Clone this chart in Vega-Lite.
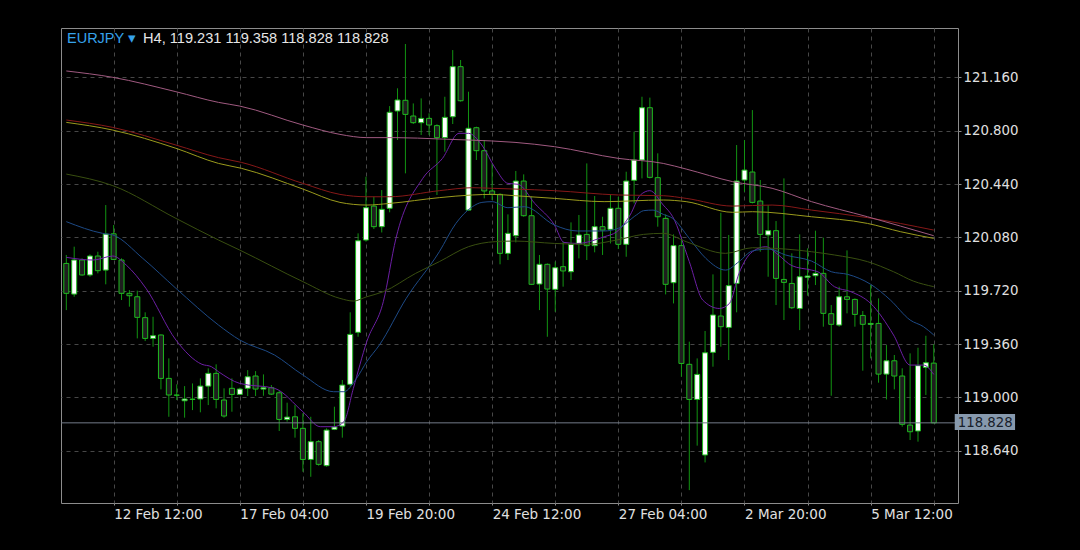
{
  "$schema": "https://vega.github.io/schema/vega-lite/v6.json",
  "width": 897,
  "height": 475,
  "autosize": {"type": "none"},
  "padding": {"left": 61, "top": 28, "right": 122, "bottom": 47},
  "background": "#000000",
  "config": {
    "view": {"stroke": "#8c8c8c", "strokeWidth": 1, "fill": "#000000"},
    "axisX": {
      "labelAlign": "left",
      "labelFlush": false,
      "labelOverlap": false,
      "labelFont": "DejaVu Sans",
      "labelFontSize": 13.5,
      "labelColor": "#e0e0e0",
      "labelPadding": 2,
      "ticks": true,
      "tickSize": 2,
      "tickColor": "#8c8c8c",
      "domain": false,
      "grid": true,
      "gridColor": "#474747",
      "gridDash": [4, 4],
      "gridWidth": 1,
      "title": null
    },
    "axisY": {
      "labelFont": "DejaVu Sans",
      "labelFontSize": 13.3,
      "labelColor": "#e0e0e0",
      "labelPadding": 2,
      "tickSize": 3,
      "tickColor": "#8c8c8c",
      "domain": false,
      "grid": true,
      "gridColor": "#474747",
      "gridDash": [4, 4],
      "gridWidth": 1,
      "title": null
    }
  },
  "datasets": {
    "candles": [
      {"i":0,"O":119.904,"H":119.961,"L":119.589,"C":119.702},
      {"i":1,"O":119.697,"H":120.017,"L":119.679,"C":119.927},
      {"i":2,"O":119.927,"H":119.938,"L":119.821,"C":119.826},
      {"i":3,"O":119.826,"H":119.965,"L":119.814,"C":119.954},
      {"i":4,"O":119.954,"H":119.983,"L":119.837,"C":119.855},
      {"i":5,"O":119.859,"H":120.298,"L":119.763,"C":120.102},
      {"i":6,"O":120.104,"H":120.163,"L":119.927,"C":119.931},
      {"i":7,"O":119.927,"H":119.938,"L":119.657,"C":119.702},
      {"i":8,"O":119.702,"H":119.724,"L":119.612,"C":119.686},
      {"i":9,"O":119.679,"H":119.720,"L":119.398,"C":119.540},
      {"i":10,"O":119.538,"H":119.574,"L":119.380,"C":119.398},
      {"i":11,"O":119.398,"H":119.544,"L":119.342,"C":119.416},
      {"i":12,"O":119.421,"H":119.425,"L":119.054,"C":119.128},
      {"i":13,"O":119.128,"H":119.263,"L":118.869,"C":119.016},
      {"i":14,"O":119.016,"H":119.088,"L":118.982,"C":119.014},
      {"i":15,"O":118.977,"H":119.076,"L":118.863,"C":118.989},
      {"i":16,"O":118.986,"H":119.094,"L":118.914,"C":118.988},
      {"i":17,"O":118.989,"H":119.128,"L":118.899,"C":119.076},
      {"i":18,"O":119.076,"H":119.196,"L":118.948,"C":119.162},
      {"i":19,"O":119.162,"H":119.223,"L":118.926,"C":118.986},
      {"i":20,"O":118.982,"H":119.061,"L":118.863,"C":118.874},
      {"i":21,"O":119.061,"H":119.128,"L":118.903,"C":119.020},
      {"i":22,"O":119.020,"H":119.065,"L":119.016,"C":119.056},
      {"i":23,"O":119.061,"H":119.184,"L":119.009,"C":119.139},
      {"i":24,"O":119.144,"H":119.177,"L":119.009,"C":119.056},
      {"i":25,"O":119.056,"H":119.155,"L":119.011,"C":119.065},
      {"i":26,"O":119.065,"H":119.083,"L":119.016,"C":119.022},
      {"i":27,"O":119.031,"H":119.043,"L":118.773,"C":118.851},
      {"i":28,"O":118.851,"H":118.964,"L":118.836,"C":118.867},
      {"i":29,"O":118.869,"H":118.948,"L":118.728,"C":118.791},
      {"i":30,"O":118.791,"H":118.892,"L":118.498,"C":118.581},
      {"i":31,"O":118.581,"H":118.869,"L":118.464,"C":118.701},
      {"i":32,"O":118.701,"H":118.712,"L":118.539,"C":118.548},
      {"i":33,"O":118.539,"H":118.791,"L":118.532,"C":118.779},
      {"i":34,"O":118.784,"H":118.937,"L":118.779,"C":118.800},
      {"i":35,"O":118.806,"H":119.117,"L":118.728,"C":119.083},
      {"i":36,"O":119.088,"H":119.574,"L":119.072,"C":119.425},
      {"i":37,"O":119.439,"H":120.107,"L":119.409,"C":120.057},
      {"i":38,"O":120.062,"H":120.489,"L":120.051,"C":120.280},
      {"i":39,"O":120.291,"H":120.354,"L":120.136,"C":120.152},
      {"i":40,"O":120.152,"H":120.399,"L":120.113,"C":120.269},
      {"i":41,"O":120.276,"H":120.966,"L":120.249,"C":120.924},
      {"i":42,"O":120.933,"H":121.086,"L":120.737,"C":121.007},
      {"i":43,"O":121.005,"H":121.385,"L":120.512,"C":120.910},
      {"i":44,"O":120.899,"H":120.984,"L":120.845,"C":120.854},
      {"i":45,"O":120.854,"H":121.018,"L":120.771,"C":120.883},
      {"i":46,"O":120.883,"H":120.917,"L":120.771,"C":120.838},
      {"i":47,"O":120.834,"H":120.843,"L":120.366,"C":120.753},
      {"i":48,"O":120.753,"H":121.029,"L":120.658,"C":120.890},
      {"i":49,"O":120.894,"H":121.344,"L":120.845,"C":121.232},
      {"i":50,"O":121.232,"H":121.277,"L":120.996,"C":121.002},
      {"i":51,"O":120.264,"H":121.063,"L":120.260,"C":120.816},
      {"i":52,"O":120.820,"H":120.827,"L":120.602,"C":120.665},
      {"i":53,"O":120.665,"H":120.737,"L":120.343,"C":120.393},
      {"i":54,"O":120.393,"H":120.579,"L":120.332,"C":120.370},
      {"i":55,"O":120.370,"H":120.377,"L":119.898,"C":119.972},
      {"i":56,"O":119.972,"H":120.235,"L":119.927,"C":120.107},
      {"i":57,"O":120.091,"H":120.528,"L":120.046,"C":120.460},
      {"i":58,"O":120.460,"H":120.505,"L":120.219,"C":120.226},
      {"i":59,"O":120.226,"H":120.354,"L":119.758,"C":119.763},
      {"i":60,"O":119.765,"H":119.961,"L":119.589,"C":119.898},
      {"i":61,"O":119.898,"H":119.904,"L":119.409,"C":119.731},
      {"i":62,"O":119.729,"H":119.916,"L":119.578,"C":119.875},
      {"i":63,"O":119.882,"H":120.051,"L":119.747,"C":119.853},
      {"i":64,"O":119.848,"H":120.181,"L":119.792,"C":120.033},
      {"i":65,"O":120.035,"H":120.231,"L":119.938,"C":120.096},
      {"i":66,"O":120.100,"H":120.579,"L":119.927,"C":120.024},
      {"i":67,"O":120.024,"H":120.359,"L":119.979,"C":120.152},
      {"i":68,"O":120.152,"H":120.219,"L":119.961,"C":120.129},
      {"i":69,"O":120.134,"H":120.366,"L":120.039,"C":120.276},
      {"i":70,"O":120.276,"H":120.354,"L":120.001,"C":120.033},
      {"i":71,"O":120.033,"H":120.523,"L":119.949,"C":120.460},
      {"i":72,"O":120.465,"H":120.793,"L":120.309,"C":120.602},
      {"i":73,"O":120.602,"H":121.029,"L":120.478,"C":120.955},
      {"i":74,"O":120.955,"H":121.023,"L":120.478,"C":120.485},
      {"i":75,"O":120.483,"H":120.647,"L":120.152,"C":120.219},
      {"i":76,"O":120.208,"H":120.235,"L":119.695,"C":119.763},
      {"i":77,"O":119.774,"H":120.100,"L":119.634,"C":120.024},
      {"i":78,"O":120.024,"H":120.073,"L":119.139,"C":119.229},
      {"i":79,"O":119.223,"H":119.376,"L":118.374,"C":118.986},
      {"i":80,"O":118.986,"H":119.263,"L":118.674,"C":119.155},
      {"i":81,"O":118.611,"H":119.448,"L":118.561,"C":119.301},
      {"i":82,"O":119.304,"H":119.830,"L":119.207,"C":119.556},
      {"i":83,"O":119.549,"H":120.246,"L":119.342,"C":119.477},
      {"i":84,"O":119.472,"H":120.096,"L":119.252,"C":119.754},
      {"i":85,"O":119.769,"H":120.703,"L":119.574,"C":120.460},
      {"i":86,"O":120.467,"H":120.737,"L":120.388,"C":120.534},
      {"i":87,"O":120.521,"H":120.939,"L":120.309,"C":120.316},
      {"i":88,"O":120.325,"H":120.467,"L":119.983,"C":120.100},
      {"i":89,"O":120.096,"H":120.298,"L":119.814,"C":120.125},
      {"i":90,"O":120.125,"H":120.190,"L":119.623,"C":119.803},
      {"i":91,"O":119.796,"H":120.478,"L":119.522,"C":119.776},
      {"i":92,"O":119.769,"H":119.972,"L":119.596,"C":119.605},
      {"i":93,"O":119.600,"H":120.100,"L":119.454,"C":119.814},
      {"i":94,"O":119.810,"H":120.006,"L":119.686,"C":119.819},
      {"i":95,"O":119.821,"H":120.125,"L":119.758,"C":119.837},
      {"i":96,"O":119.837,"H":120.078,"L":119.477,"C":119.567},
      {"i":97,"O":119.565,"H":119.623,"L":119.011,"C":119.493},
      {"i":98,"O":119.488,"H":119.747,"L":119.477,"C":119.679},
      {"i":99,"O":119.679,"H":119.992,"L":119.567,"C":119.661},
      {"i":100,"O":119.661,"H":119.668,"L":119.477,"C":119.560},
      {"i":101,"O":119.553,"H":119.583,"L":119.180,"C":119.493},
      {"i":102,"O":119.493,"H":119.758,"L":119.263,"C":119.499},
      {"i":103,"O":119.499,"H":119.668,"L":119.099,"C":119.157},
      {"i":104,"O":119.157,"H":119.353,"L":118.986,"C":119.247},
      {"i":105,"O":119.247,"H":119.286,"L":119.054,"C":119.144},
      {"i":106,"O":119.144,"H":119.196,"L":118.802,"C":118.818},
      {"i":107,"O":118.813,"H":119.297,"L":118.712,"C":118.768},
      {"i":108,"O":118.773,"H":119.335,"L":118.701,"C":119.214},
      {"i":109,"O":119.202,"H":119.416,"L":119.016,"C":119.234},
      {"i":110,"O":119.231,"H":119.358,"L":118.828,"C":118.828}
    ],
    "ma": [
      {"s":"ma1","i":0,"v":119.945},{"s":"ma1","i":3.4,"v":119.927},{"s":"ma1","i":5.9,"v":119.954},{"s":"ma1","i":7.6,"v":119.893},{"s":"ma1","i":10.1,"v":119.736},{"s":"ma1","i":13.9,"v":119.387},{"s":"ma1","i":17.2,"v":119.223},{"s":"ma1","i":18.4,"v":119.207},{"s":"ma1","i":19.3,"v":119.173},{"s":"ma1","i":22.0,"v":119.094},{"s":"ma1","i":26.4,"v":119.061},{"s":"ma1","i":30.0,"v":118.903},{"s":"ma1","i":32.2,"v":118.802},{"s":"ma1","i":33.9,"v":118.802},{"s":"ma1","i":35.2,"v":118.836},{"s":"ma1","i":36.4,"v":119.061},{"s":"ma1","i":38.1,"v":119.376},{"s":"ma1","i":40.2,"v":119.646},{"s":"ma1","i":41.8,"v":120.073},{"s":"ma1","i":45.2,"v":120.478},{"s":"ma1","i":47.7,"v":120.613},{"s":"ma1","i":49.8,"v":120.782},{"s":"ma1","i":51.0,"v":120.782},{"s":"ma1","i":52.7,"v":120.703},{"s":"ma1","i":54.4,"v":120.546},{"s":"ma1","i":56.0,"v":120.444},{"s":"ma1","i":57.3,"v":120.438},{"s":"ma1","i":59.4,"v":120.309},{"s":"ma1","i":61.9,"v":120.163},{"s":"ma1","i":63.1,"v":120.046},{"s":"ma1","i":64.8,"v":120.039},{"s":"ma1","i":68.2,"v":120.084},{"s":"ma1","i":69.8,"v":120.118},{"s":"ma1","i":71.5,"v":120.231},{"s":"ma1","i":72.8,"v":120.366},{"s":"ma1","i":74.0,"v":120.395},{"s":"ma1","i":75.7,"v":120.298},{"s":"ma1","i":76.9,"v":120.219},{"s":"ma1","i":79.0,"v":119.916},{"s":"ma1","i":80.7,"v":119.657},{"s":"ma1","i":82.8,"v":119.600},{"s":"ma1","i":84.1,"v":119.634},{"s":"ma1","i":85.3,"v":119.837},{"s":"ma1","i":87.0,"v":119.983},{"s":"ma1","i":88.7,"v":120.017},{"s":"ma1","i":90.3,"v":119.961},{"s":"ma1","i":92.0,"v":119.889},{"s":"ma1","i":94.5,"v":119.859},{"s":"ma1","i":95.3,"v":119.848},{"s":"ma1","i":97.4,"v":119.747},{"s":"ma1","i":99.5,"v":119.713},{"s":"ma1","i":102.0,"v":119.634},{"s":"ma1","i":104.9,"v":119.421},{"s":"ma1","i":107.0,"v":119.218},{"s":"ma1","i":108.7,"v":119.218},{"s":"ma1","i":110,"v":119.155},
      {"s":"ma2","i":0,"v":120.186},{"s":"ma2","i":4.6,"v":120.107},{"s":"ma2","i":5.9,"v":120.096},{"s":"ma2","i":9.7,"v":119.938},{"s":"ma2","i":13.9,"v":119.736},{"s":"ma2","i":19.3,"v":119.488},{"s":"ma2","i":22.0,"v":119.387},{"s":"ma2","i":26.4,"v":119.286},{"s":"ma2","i":30.0,"v":119.151},{"s":"ma2","i":33.9,"v":119.038},{"s":"ma2","i":35.2,"v":119.038},{"s":"ma2","i":36.8,"v":119.128},{"s":"ma2","i":38.1,"v":119.241},{"s":"ma2","i":39.7,"v":119.353},{"s":"ma2","i":43.1,"v":119.668},{"s":"ma2","i":47.3,"v":119.983},{"s":"ma2","i":49.4,"v":120.174},{"s":"ma2","i":51.5,"v":120.287},{"s":"ma2","i":52.7,"v":120.316},{"s":"ma2","i":54.0,"v":120.321},{"s":"ma2","i":56.0,"v":120.280},{"s":"ma2","i":58.1,"v":120.287},{"s":"ma2","i":61.9,"v":120.163},{"s":"ma2","i":64.8,"v":120.123},{"s":"ma2","i":68.2,"v":120.123},{"s":"ma2","i":70.0,"v":120.141},{"s":"ma2","i":72.3,"v":120.231},{"s":"ma2","i":73.2,"v":120.260},{"s":"ma2","i":74.4,"v":120.264},{"s":"ma2","i":75.7,"v":120.235},{"s":"ma2","i":76.9,"v":120.208},{"s":"ma2","i":79.0,"v":120.073},{"s":"ma2","i":81.1,"v":119.938},{"s":"ma2","i":83.6,"v":119.859},{"s":"ma2","i":85.3,"v":119.916},{"s":"ma2","i":87.0,"v":119.988},{"s":"ma2","i":89.1,"v":120.001},{"s":"ma2","i":91.2,"v":119.961},{"s":"ma2","i":94.5,"v":119.920},{"s":"ma2","i":97.0,"v":119.848},{"s":"ma2","i":99.1,"v":119.830},{"s":"ma2","i":102.0,"v":119.763},{"s":"ma2","i":104.5,"v":119.657},{"s":"ma2","i":107.0,"v":119.522},{"s":"ma2","i":108.7,"v":119.477},{"s":"ma2","i":110,"v":119.421},
      {"s":"ma3","i":0,"v":120.507},{"s":"ma3","i":5.9,"v":120.429},{"s":"ma3","i":13.9,"v":120.208},{"s":"ma3","i":19.3,"v":120.062},{"s":"ma3","i":22.0,"v":119.994},{"s":"ma3","i":30.0,"v":119.781},{"s":"ma3","i":34.7,"v":119.668},{"s":"ma3","i":36.4,"v":119.650},{"s":"ma3","i":38.1,"v":119.679},{"s":"ma3","i":40.2,"v":119.713},{"s":"ma3","i":44.3,"v":119.837},{"s":"ma3","i":47.3,"v":119.916},{"s":"ma3","i":51.0,"v":120.017},{"s":"ma3","i":54.4,"v":120.051},{"s":"ma3","i":56.9,"v":120.055},{"s":"ma3","i":61.9,"v":120.039},{"s":"ma3","i":66.1,"v":120.033},{"s":"ma3","i":69.8,"v":120.062},{"s":"ma3","i":73.2,"v":120.100},{"s":"ma3","i":75.7,"v":120.107},{"s":"ma3","i":78.6,"v":120.051},{"s":"ma3","i":83.6,"v":119.972},{"s":"ma3","i":87.0,"v":120.010},{"s":"ma3","i":91.2,"v":120.001},{"s":"ma3","i":94.5,"v":119.983},{"s":"ma3","i":97.4,"v":119.961},{"s":"ma3","i":101.6,"v":119.916},{"s":"ma3","i":104.9,"v":119.848},{"s":"ma3","i":107.4,"v":119.785},{"s":"ma3","i":110,"v":119.747},
      {"s":"ma4","i":0,"v":120.856},{"s":"ma4","i":5.9,"v":120.804},{"s":"ma4","i":13.9,"v":120.681},{"s":"ma4","i":19.3,"v":120.579},{"s":"ma4","i":22.2,"v":120.546},{"s":"ma4","i":30.0,"v":120.406},{"s":"ma4","i":34.7,"v":120.316},{"s":"ma4","i":38.1,"v":120.298},{"s":"ma4","i":41.0,"v":120.309},{"s":"ma4","i":47.3,"v":120.348},{"s":"ma4","i":51.5,"v":120.366},{"s":"ma4","i":54.0,"v":120.370},{"s":"ma4","i":56.9,"v":120.361},{"s":"ma4","i":61.9,"v":120.343},{"s":"ma4","i":68.2,"v":120.321},{"s":"ma4","i":75.7,"v":120.332},{"s":"ma4","i":78.6,"v":120.321},{"s":"ma4","i":84.5,"v":120.249},{"s":"ma4","i":87.0,"v":120.253},{"s":"ma4","i":94.5,"v":120.219},{"s":"ma4","i":101.6,"v":120.174},{"s":"ma4","i":105.8,"v":120.118},{"s":"ma4","i":110,"v":120.073},
      {"s":"ma5","i":0,"v":120.872},{"s":"ma5","i":5.9,"v":120.822},{"s":"ma5","i":13.9,"v":120.703},{"s":"ma5","i":19.3,"v":120.618},{"s":"ma5","i":22.2,"v":120.586},{"s":"ma5","i":30.0,"v":120.444},{"s":"ma5","i":34.7,"v":120.370},{"s":"ma5","i":38.1,"v":120.354},{"s":"ma5","i":41.0,"v":120.354},{"s":"ma5","i":47.3,"v":120.395},{"s":"ma5","i":51.5,"v":120.415},{"s":"ma5","i":54.0,"v":120.411},{"s":"ma5","i":56.9,"v":120.406},{"s":"ma5","i":61.9,"v":120.395},{"s":"ma5","i":70.0,"v":120.366},{"s":"ma5","i":75.7,"v":120.361},{"s":"ma5","i":78.6,"v":120.343},{"s":"ma5","i":84.5,"v":120.291},{"s":"ma5","i":89.5,"v":120.298},{"s":"ma5","i":94.5,"v":120.264},{"s":"ma5","i":101.6,"v":120.213},{"s":"ma5","i":110,"v":120.129},
      {"s":"ma6","i":0,"v":121.203},{"s":"ma6","i":5.9,"v":121.160},{"s":"ma6","i":13.9,"v":121.063},{"s":"ma6","i":19.3,"v":120.991},{"s":"ma6","i":22.0,"v":120.966},{"s":"ma6","i":30.0,"v":120.838},{"s":"ma6","i":34.7,"v":120.775},{"s":"ma6","i":38.1,"v":120.753},{"s":"ma6","i":41.8,"v":120.753},{"s":"ma6","i":47.3,"v":120.744},{"s":"ma6","i":51.0,"v":120.737},{"s":"ma6","i":56.9,"v":120.721},{"s":"ma6","i":61.9,"v":120.692},{"s":"ma6","i":70.0,"v":120.613},{"s":"ma6","i":75.7,"v":120.579},{"s":"ma6","i":78.6,"v":120.541},{"s":"ma6","i":84.5,"v":120.456},{"s":"ma6","i":89.5,"v":120.411},{"s":"ma6","i":94.5,"v":120.321},{"s":"ma6","i":101.6,"v":120.219},{"s":"ma6","i":110,"v":120.091}
    ],
    "price": [{"label": "118.828", "p": 118.828}],
    "head1": [{"text": "EURJPY ▾"}],
    "head2": [{"text": "H4, 119.231 119.358 118.828 118.828"}]
  },
  "layer": [
    {
      "data": {"name": "candles"},
      "mark": {"type": "rule", "color": "#129412", "strokeWidth": 1},
      "encoding": {
        "x": {
          "field": "i", "type": "quantitative", "title": null,
          "scale": {"domain": [-0.04, 112.44], "nice": false, "zero": false},
          "axis": {
            "orient": "bottom",
            "title": null,
            "values": [6, 14, 22, 30, 38, 46, 54, 62, 70, 78, 86, 94, 102, 110],
            "labelExpr": "datum.value == 6 ? '12 Feb 12:00' : datum.value == 22 ? '17 Feb 04:00' : datum.value == 38 ? '19 Feb 20:00' : datum.value == 54 ? '24 Feb 12:00' : datum.value == 70 ? '27 Feb 04:00' : datum.value == 86 ? '2 Mar 20:00' : datum.value == 102 ? '5 Mar 12:00' : ''",
            "labelAlign": "left",
            "labelFont": "DejaVu Sans",
            "labelFontSize": 13.5,
            "labelFlush": false,
            "labelOverlap": false
          }
        },
        "y": {
          "field": "L", "type": "quantitative", "title": null,
          "scale": {"domain": [118.287, 121.493], "nice": false, "zero": false},
          "axis": {
            "orient": "right",
            "title": null,
            "values": [118.64, 119.0, 119.36, 119.72, 120.08, 120.44, 120.8, 121.16],
            "format": ".3f",
            "labelFont": "DejaVu Sans",
            "labelFontSize": 13.3
          }
        },
        "y2": {"field": "H"}
      }
    },
    {
      "data": {"name": "candles"},
      "mark": {"type": "bar", "size": 5, "stroke": "#1fba1f", "strokeWidth": 1},
      "encoding": {
        "x": {"field": "i", "type": "quantitative", "title": null},
        "y": {"field": "O", "type": "quantitative", "title": null},
        "y2": {"field": "C"},
        "fill": {
          "condition": {"test": "datum.C >= datum.O", "value": "#ffffff"},
          "value": "#1e1e1e"
        }
      }
    },
    {
      "data": {"name": "ma"},
      "mark": {"type": "line", "strokeWidth": 1, "interpolate": "monotone"},
      "encoding": {
        "x": {"field": "i", "type": "quantitative", "title": null},
        "y": {"field": "v", "type": "quantitative", "title": null},
        "color": {
          "field": "s", "type": "nominal",
          "scale": {"domain": ["ma1", "ma2", "ma3", "ma4", "ma5", "ma6"], "range": ["#6c1fa4", "#1d4a86", "#394f10", "#9a9a1c", "#861818", "#a05a80"]},
          "legend": null
        }
      }
    },
    {
      "data": {"name": "price"},
      "mark": {"type": "rule", "color": "#737a88", "strokeWidth": 1},
      "encoding": {
        "y": {"field": "p", "type": "quantitative", "title": null}
      }
    },
    {
      "data": {"name": "price"},
      "mark": {"type": "rect", "fill": "#8799ad", "clip": false},
      "encoding": {
        "x": {"datum": 112.66, "type": "quantitative", "title": null},
        "x2": {"datum": 120.31},
        "y": {"datum": 118.888, "type": "quantitative", "title": null},
        "y2": {"datum": 118.780}
      }
    },
    {
      "data": {"name": "price"},
      "mark": {"type": "text", "align": "left", "baseline": "middle", "font": "DejaVu Sans", "fontSize": 13.3, "color": "#17202a", "clip": false, "dx": 3},
      "encoding": {
        "x": {"datum": 112.66, "type": "quantitative", "title": null},
        "y": {"field": "p", "type": "quantitative", "title": null},
        "text": {"field": "label"}
      }
    },
    {
      "data": {"name": "head1"},
      "mark": {"type": "text", "align": "left", "baseline": "alphabetic", "font": "Liberation Sans", "fontSize": 14.5, "color": "#36a2ea", "dx": 1},
      "encoding": {
        "x": {"datum": -0.04, "type": "quantitative", "title": null},
        "y": {"datum": 121.392, "type": "quantitative", "title": null},
        "text": {"field": "text"}
      }
    },
    {
      "data": {"name": "head2"},
      "mark": {"type": "text", "align": "left", "baseline": "alphabetic", "font": "Liberation Sans", "fontSize": 14.6, "color": "#e6e6e6", "dx": 77},
      "encoding": {
        "x": {"datum": -0.04, "type": "quantitative", "title": null},
        "y": {"datum": 121.392, "type": "quantitative", "title": null},
        "text": {"field": "text"}
      }
    }
  ]
}
